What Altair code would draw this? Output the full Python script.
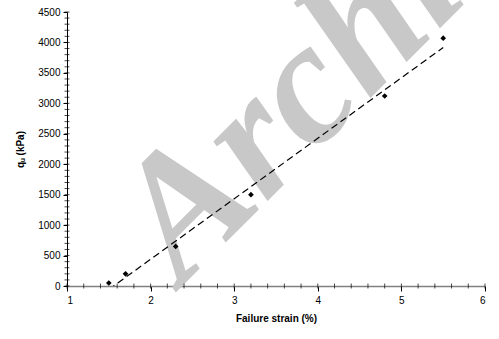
import altair as alt
import pandas as pd

strain = [1.5, 1.7, 2.3, 3.2, 4.8, 5.5]
qu = [50, 200, 650, 1500, 3120, 4070]

x_major = [1, 2, 3, 4, 5, 6]
y_major = [0, 500, 1000, 1500, 2000, 2500, 3000, 3500, 4000, 4500]
x_minor = [round(1 + 0.2 * i, 1) for i in range(26)]
y_minor = list(range(0, 4501, 100))

wm_text = ["Archive"]
wm_x = [2.38]
wm_y = [0]

df = pd.DataFrame({"strain": strain, "qu": qu})
df_xm = pd.DataFrame({"v": x_minor})
df_ym = pd.DataFrame({"v": y_minor})
df_wm = pd.DataFrame({"t": wm_text, "x": wm_x, "y": wm_y})

FONT = "Liberation Sans"

xscale = alt.Scale(domain=[1, 6], nice=False, zero=False)
yscale = alt.Scale(domain=[0, 4500], nice=False)

xaxis = alt.Axis(values=x_major, format="d", title="Failure strain (%)", grid=False, labelOverlap=False,
                 domainColor="#808080", domainWidth=1.5, tickColor="#000000", tickSize=5,
                 labelFont=FONT, labelFontSize=10, labelColor="#000000", labelPadding=4,
                 titleFont=FONT, titleFontSize=10, titleFontWeight="bold", titleColor="#000000",
                 titlePadding=8)
yaxis = alt.Axis(values=y_major, format="d", title="qᵤ (kPa)", grid=False, labelOverlap=False,
                 domainColor="#000000", tickColor="#000000", tickSize=4,
                 labelFont=FONT, labelFontSize=10, labelColor="#000000", labelPadding=3,
                 titleFont=FONT, titleFontSize=10, titleFontWeight="bold", titleColor="#000000",
                 titlePadding=12)

wm = alt.Chart(df_wm).mark_text(
    font="Liberation Serif", fontStyle="italic", fontWeight="bold", fontSize=175,
    color="#c8c8c8", angle=315, align="left", baseline="alphabetic"
).encode(x=alt.X("x:Q", scale=xscale, axis=xaxis), y=alt.Y("y:Q", scale=yscale, axis=yaxis), text="t:N")

minor_x = alt.Chart(df_xm).mark_tick(color="#000000", size=5, thickness=1, orient="vertical").encode(
    x=alt.X("v:Q", scale=xscale, axis=xaxis), y=alt.datum(0, scale=yscale, axis=yaxis))
minor_y = alt.Chart(df_ym).mark_tick(color="#000000", size=5, thickness=1, orient="horizontal").encode(
    y=alt.Y("v:Q", scale=yscale, axis=yaxis), x=alt.datum(1, scale=xscale, axis=xaxis))

line = alt.Chart(df).transform_regression("strain", "qu", extent=[1.5, 5.5]).mark_line(
    color="#000000", strokeDash=[7, 4], strokeWidth=1.2, clip=True
).encode(x=alt.X("strain:Q", scale=xscale, axis=xaxis), y=alt.Y("qu:Q", scale=yscale, axis=yaxis))

pts = alt.Chart(df).mark_point(shape="diamond", filled=True, color="#000000", size=32, opacity=1).encode(
    x=alt.X("strain:Q", scale=xscale, axis=xaxis), y=alt.Y("qu:Q", scale=yscale, axis=yaxis))

chart = alt.layer(wm, minor_x, minor_y, line, pts).properties(
    width=418, height=274,
    autosize=alt.AutoSizeParams(type="none"),
    padding={"left": 67, "top": 12, "right": 14, "bottom": 53},
    background="#ffffff",
).configure_view(stroke=None)

chart.save("out.html", embed_options={"renderer": "svg", "actions": False})
